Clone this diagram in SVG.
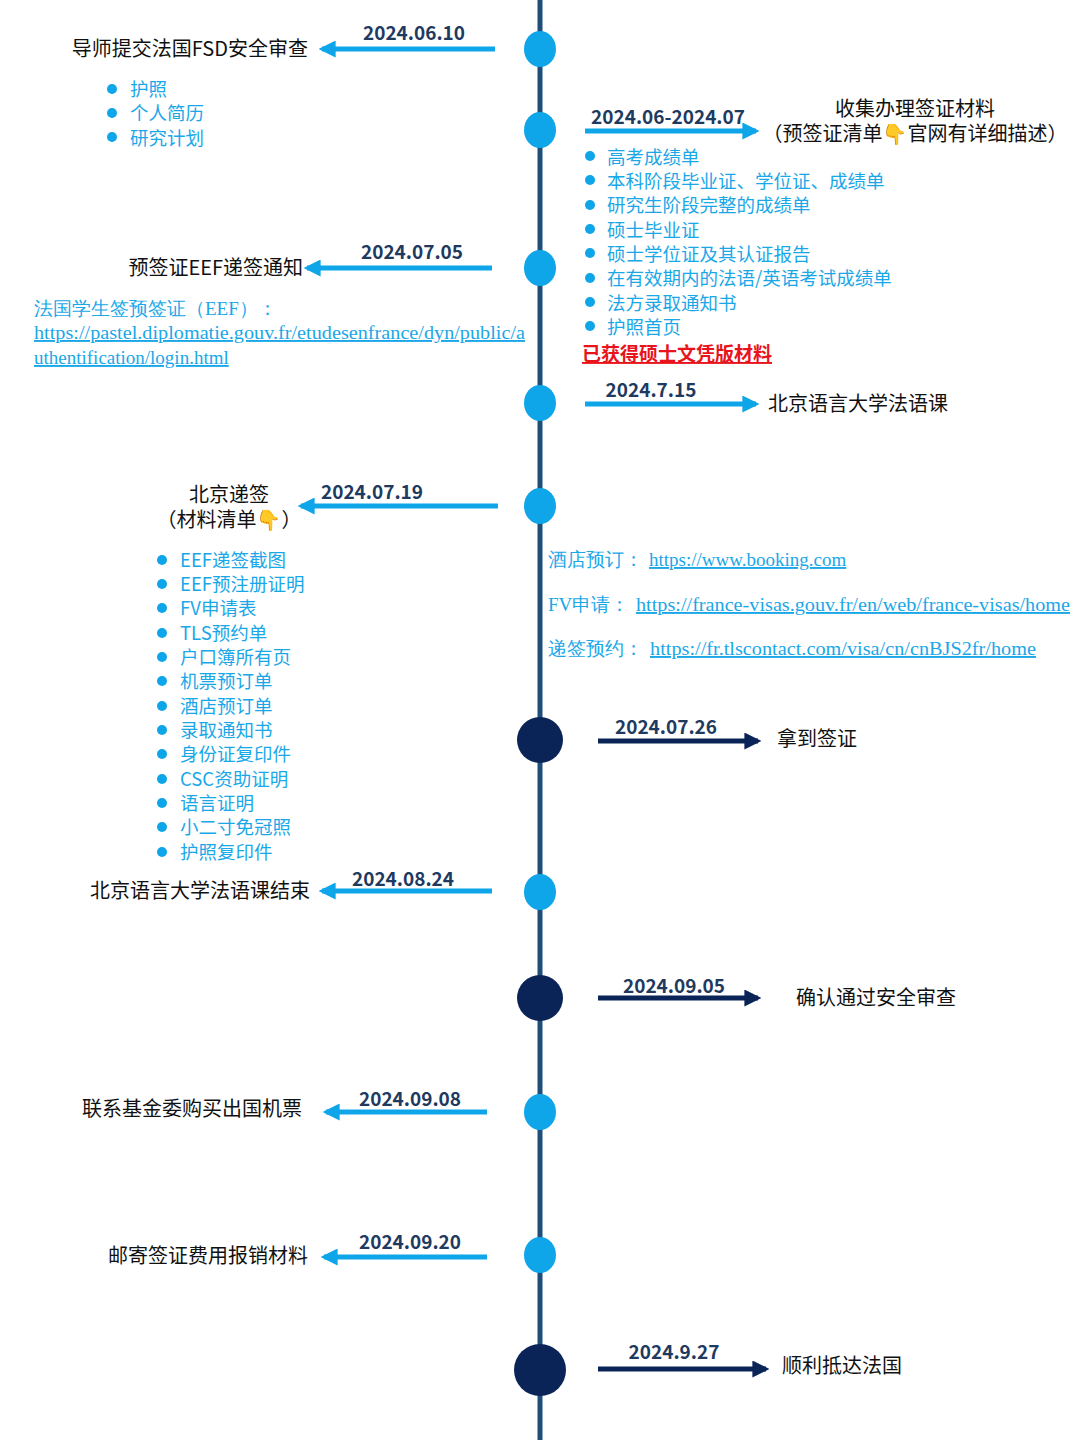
<svg xmlns="http://www.w3.org/2000/svg" width="1080" height="1440" viewBox="0 0 1080 1440">
<defs>
<marker id="ab" viewBox="0 0 10 10" refX="8" refY="5" markerWidth="3.4" markerHeight="3.4" orient="auto-start-reverse"><path d="M0,0 L10,5 L0,10 Z" fill="#0ea5e9"/></marker>
<marker id="ad" viewBox="0 0 10 10" refX="8" refY="5" markerWidth="3.4" markerHeight="3.4" orient="auto-start-reverse"><path d="M0,0 L10,5 L0,10 Z" fill="#0b2457"/></marker>
<style>
text{font-family:"Noto Sans CJK SC","Liberation Sans",sans-serif}
.lb{fill:#0ea5e9}.dk{fill:#0b2457}
.d{font-weight:bold;font-size:19px;fill:#1f3a5f;text-anchor:middle}
.t{font-size:20px;fill:#111}
.li{font-size:18.5px;fill:#1aa7e8}
.u{font-family:"Liberation Serif",serif;font-size:19px;fill:#1aa7e8}
.ul{text-decoration:underline}
.ca{stroke:#0ea5e9;stroke-width:5;fill:none}
.cd{stroke:#0b2457;stroke-width:5;fill:none}
</style>
</defs>
<rect width="1080" height="1440" fill="#fff"/>
<line x1="540" y1="0" x2="540" y2="1440" stroke="#1f4e79" stroke-width="5"/>
<g id="connectors">
<line class="ca" x1="495" y1="49" x2="322" y2="49" marker-end="url(#ab)"/>
<line class="ca" x1="585" y1="131" x2="756" y2="131" marker-end="url(#ab)"/>
<line class="ca" x1="492" y1="268" x2="307" y2="268" marker-end="url(#ab)"/>
<line class="ca" x1="585" y1="404" x2="756" y2="404" marker-end="url(#ab)"/>
<line class="ca" x1="498" y1="506" x2="301" y2="506" marker-end="url(#ab)"/>
<line class="cd" x1="598" y1="741" x2="758" y2="741" marker-end="url(#ad)"/>
<line class="ca" x1="492" y1="891" x2="322" y2="891" marker-end="url(#ab)"/>
<line class="cd" x1="598" y1="998" x2="758" y2="998" marker-end="url(#ad)"/>
<line class="ca" x1="487" y1="1112" x2="326" y2="1112" marker-end="url(#ab)"/>
<line class="ca" x1="487" y1="1257" x2="324" y2="1257" marker-end="url(#ab)"/>
<line class="cd" x1="598" y1="1369" x2="766" y2="1369" marker-end="url(#ad)"/>
</g>
<g id="n1"><ellipse class="lb" cx="540" cy="49" rx="16" ry="18"/><text class="d" x="414" y="40">2024.06.10</text><text class="t" x="308" y="56" text-anchor="end">导师提交法国FSD安全审查</text>
<g class="lb"><circle cx="112" cy="89" r="5"/><circle cx="112" cy="113" r="5"/><circle cx="112" cy="137" r="5"/></g>
<text class="li" x="130" y="96">护照</text><text class="li" x="130" y="120">个人简历</text><text class="li" x="130" y="145">研究计划</text></g>
<g id="n2"><ellipse class="lb" cx="540" cy="130" rx="16" ry="18"/><text class="d" x="668" y="124">2024.06-2024.07</text>
<text class="t" x="915" y="116" text-anchor="middle">收集办理签证材料</text><text class="t" x="915" y="141" text-anchor="middle">（预签证清单👇官网有详细描述）</text>
<g class="lb"><circle cx="590" cy="156" r="5"/><circle cx="590" cy="180" r="5"/><circle cx="590" cy="205" r="5"/><circle cx="590" cy="229" r="5"/><circle cx="590" cy="253" r="5"/><circle cx="590" cy="278" r="5"/><circle cx="590" cy="302" r="5"/><circle cx="590" cy="326" r="5"/></g>
<text class="li" x="607" y="164">高考成绩单</text><text class="li" x="607" y="188">本科阶段毕业证、学位证、成绩单</text><text class="li" x="607" y="212">研究生阶段完整的成绩单</text><text class="li" x="607" y="237">硕士毕业证</text><text class="li" x="607" y="261">硕士学位证及其认证报告</text><text class="li" x="607" y="285">在有效期内的法语/英语考试成绩单</text><text class="li" x="607" y="310">法方录取通知书</text><text class="li" x="607" y="334">护照首页</text>
<text x="582" y="361" font-size="19" font-weight="bold" fill="#e8141c" class="ul">已获得硕士文凭版材料</text></g>
<g id="n3"><ellipse class="lb" cx="540" cy="268" rx="16" ry="18"/><text class="d" x="412" y="259">2024.07.05</text><text class="t" x="303" y="275" text-anchor="end">预签证EEF递签通知</text>
<text class="u" x="34" y="315">法国学生签预签证（EEF）：</text><text class="u ul" x="34" y="339" textLength="491" lengthAdjust="spacingAndGlyphs">https://pastel.diplomatie.gouv.fr/etudesenfrance/dyn/public/a</text><text class="u ul" x="34" y="364">uthentification/login.html</text></g>
<g id="n4"><ellipse class="lb" cx="540" cy="403" rx="16" ry="18"/><text class="d" x="651" y="397">2024.7.15</text><text class="t" x="768" y="411">北京语言大学法语课</text></g>
<g id="n5"><ellipse class="lb" cx="540" cy="506" rx="16" ry="18"/><text class="d" x="372" y="499">2024.07.19</text><text class="t" x="229" y="502" text-anchor="middle">北京递签</text><text class="t" x="229" y="527" text-anchor="middle">（材料清单👇）</text>
<g class="lb"><circle cx="162" cy="560" r="5"/><circle cx="162" cy="584" r="5"/><circle cx="162" cy="608" r="5"/><circle cx="162" cy="633" r="5"/><circle cx="162" cy="657" r="5"/><circle cx="162" cy="681" r="5"/><circle cx="162" cy="706" r="5"/><circle cx="162" cy="730" r="5"/><circle cx="162" cy="754" r="5"/><circle cx="162" cy="779" r="5"/><circle cx="162" cy="803" r="5"/><circle cx="162" cy="827" r="5"/><circle cx="162" cy="852" r="5"/></g>
<text class="li" x="180" y="567">EEF递签截图</text><text class="li" x="180" y="591">EEF预注册证明</text><text class="li" x="180" y="615">FV申请表</text><text class="li" x="180" y="640">TLS预约单</text><text class="li" x="180" y="664">户口簿所有页</text><text class="li" x="180" y="688">机票预订单</text><text class="li" x="180" y="713">酒店预订单</text><text class="li" x="180" y="737">录取通知书</text><text class="li" x="180" y="761">身份证复印件</text><text class="li" x="180" y="786">CSC资助证明</text><text class="li" x="180" y="810">语言证明</text><text class="li" x="180" y="834">小二寸免冠照</text><text class="li" x="180" y="859">护照复印件</text>
<text class="u" x="548" y="566">酒店预订：<tspan class="ul" x="649">https://www.booking.com</tspan></text>
<text class="u" x="548" y="611">FV申请：<tspan class="ul" x="636" textLength="434" lengthAdjust="spacingAndGlyphs">https://france-visas.gouv.fr/en/web/france-visas/home</tspan></text>
<text class="u" x="548" y="655">递签预约：<tspan class="ul" x="650" textLength="386" lengthAdjust="spacingAndGlyphs">https://fr.tlscontact.com/visa/cn/cnBJS2fr/home</tspan></text></g>
<g id="n6"><circle class="dk" cx="540" cy="740" r="23"/><text class="d" x="666" y="734">2024.07.26</text><text class="t" x="777" y="746">拿到签证</text></g>
<g id="n7"><ellipse class="lb" cx="540" cy="892" rx="16" ry="18"/><text class="d" x="403" y="886">2024.08.24</text><text class="t" x="310" y="898" text-anchor="end">北京语言大学法语课结束</text></g>
<g id="n8"><circle class="dk" cx="540" cy="998" r="23"/><text class="d" x="674" y="993">2024.09.05</text><text class="t" x="796" y="1005">确认通过安全审查</text></g>
<g id="n9"><ellipse class="lb" cx="540" cy="1112" rx="16" ry="18"/><text class="d" x="410" y="1106">2024.09.08</text><text class="t" x="302" y="1116" text-anchor="end">联系基金委购买出国机票</text></g>
<g id="n10"><ellipse class="lb" cx="540" cy="1255" rx="16" ry="18"/><text class="d" x="410" y="1249">2024.09.20</text><text class="t" x="308" y="1263" text-anchor="end">邮寄签证费用报销材料</text></g>
<g id="n11"><circle class="dk" cx="540" cy="1370" r="26"/><text class="d" x="674" y="1359">2024.9.27</text><text class="t" x="782" y="1373">顺利抵达法国</text></g>
</svg>
